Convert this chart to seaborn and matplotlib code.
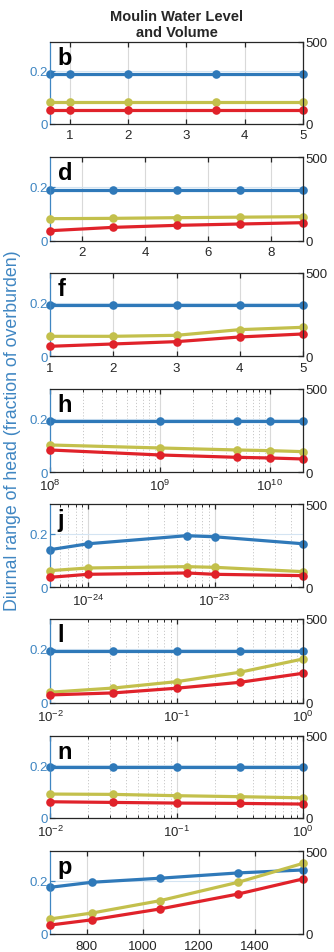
import numpy as np
import pandas as pd
import seaborn as sns
import matplotlib
matplotlib.use("Agg")
import matplotlib.pyplot as plt
from matplotlib.ticker import NullFormatter, LogLocator, FixedLocator

sns.set_theme(style="white")
plt.rcParams['font.family'] = ['Liberation Sans', 'DejaVu Sans']
plt.rcParams['mathtext.fontset'] = 'custom'
plt.rcParams['mathtext.rm'] = 'Liberation Sans'
plt.rcParams['mathtext.it'] = 'Liberation Sans'
plt.rcParams['mathtext.default'] = 'regular'

# Panel letters
letters = ["b", "d", "f", "h", "j", "l", "n", "p"]

# Parameter values (x) for each panel
x_b = [0.66, 1, 2, 3.5, 5]
x_d = [1, 3, 5, 7, 9]
x_f = [1, 2, 3, 4, 5]
x_h = [1e8, 1e9, 5e9, 1e10, 2e10]
x_j = [5e-25, 1e-24, 6e-24, 1e-23, 5e-23]
x_l = [1e-2, 10**-1.5, 1e-1, 10**-0.5, 1e0]
x_n = [1e-2, 10**-1.5, 1e-1, 10**-0.5, 1e0]
x_p = [670, 820, 1060, 1340, 1570]

# Diurnal range of head (fraction of overburden), left axis
head_b = [0.187, 0.187, 0.187, 0.187, 0.187]
head_d = [0.190, 0.190, 0.190, 0.190, 0.190]
head_f = [0.191, 0.191, 0.191, 0.191, 0.191]
head_h = [0.192, 0.192, 0.192, 0.192, 0.192]
head_j = [0.140, 0.162, 0.192, 0.188, 0.162]
head_l = [0.191, 0.191, 0.191, 0.191, 0.191]
head_n = [0.193, 0.193, 0.193, 0.193, 0.193]
head_p = [0.175, 0.194, 0.209, 0.229, 0.240]

# Volume series on the right axis (0-500)
vol_yellow_b = [129, 129, 129, 129, 129]
vol_yellow_d = [132, 134, 138, 141, 144]
vol_yellow_f = [120, 120, 126, 160, 174]
vol_yellow_h = [164, 146, 134, 130, 124]
vol_yellow_j = [100, 116, 124, 120, 94]
vol_yellow_l = [64, 89, 127, 183, 262]
vol_yellow_n = [146, 144, 136, 130, 123]
vol_yellow_p = [91, 127, 201, 313, 427]

vol_red_b = [84, 84, 84, 84, 84]
vol_red_d = [60, 80, 92, 100, 108]
vol_red_f = [60, 74, 88, 116, 134]
vol_red_h = [134, 104, 90, 86, 80]
vol_red_j = [60, 78, 86, 78, 70]
vol_red_l = [48, 60, 88, 123, 177]
vol_red_n = [99, 95, 91, 89, 85]
vol_red_p = [54, 86, 151, 242, 333]

xs = [x_b, x_d, x_f, x_h, x_j, x_l, x_n, x_p]
heads = [head_b, head_d, head_f, head_h, head_j, head_l, head_n, head_p]
yellows = [vol_yellow_b, vol_yellow_d, vol_yellow_f, vol_yellow_h,
           vol_yellow_j, vol_yellow_l, vol_yellow_n, vol_yellow_p]
reds = [vol_red_b, vol_red_d, vol_red_f, vol_red_h,
        vol_red_j, vol_red_l, vol_red_n, vol_red_p]

log_panels = {"h", "j", "l", "n"}
major_ticks = {
    "b": [1, 2, 3, 4, 5],
    "d": [2, 4, 6, 8],
    "f": [1, 2, 3, 4, 5],
    "h": [1e8, 1e9, 1e10],
    "j": [1e-24, 1e-23],
    "l": [1e-2, 1e-1, 1e0],
    "n": [1e-2, 1e-1, 1e0],
    "p": [800, 1000, 1200, 1400],
}

BLUE = "#2f79b9"
BLUE_TXT = "#3f86c2"
YELLOW = "#c3c04c"
RED = "#e0222a"
DARK = "#262626"

W, H = 334, 953
fig = plt.figure(figsize=(W / 100, H / 100), dpi=100)

# Axes boxes in pixel rows (top, bottom)
rows = [(42.5, 124.5), (158.3, 241.7), (274, 357.3), (390, 473.3),
        (505, 588.3), (620, 704), (737, 819), (852.3, 935)]
left_px, right_px = 50, 303

line_kw = dict(marker="o", markersize=6.2, markeredgewidth=0, linewidth=2.3,
               clip_on=False)

for i, letter in enumerate(letters):
    top, bot = rows[i]
    ax = fig.add_axes([left_px / W, 1 - bot / H, (right_px - left_px) / W, (bot - top) / H])
    ax2 = ax.twinx()

    x = xs[i]
    df = pd.DataFrame({"x": x, "head": heads[i], "yellow": yellows[i], "red": reds[i]})

    sns.lineplot(data=df, x="x", y="head", ax=ax, color=BLUE, **line_kw)
    sns.lineplot(data=df, x="x", y="yellow", ax=ax2, color=YELLOW, **line_kw)
    sns.lineplot(data=df, x="x", y="red", ax=ax2, color=RED, **line_kw)

    for a in (ax, ax2):
        if letter in log_panels:
            a.set_xscale("log")
        a.set_xlim(x[0], x[-1])
        a.set_xlabel("")
        a.set_ylabel("")

    ax.set_ylim(0, 0.31)
    ax.set_yticks([0, 0.2])
    ax.set_yticklabels(["0", "0.2"])
    ax2.set_ylim(0, 500)
    ax2.set_yticks([0, 500])
    ax2.set_yticklabels(["0", "500"])

    ax.xaxis.set_major_locator(FixedLocator(major_ticks[letter]))
    if letter in log_panels:
        ax.xaxis.set_minor_locator(LogLocator(base=10, subs=np.arange(2, 10)))
        ax.xaxis.set_minor_formatter(NullFormatter())
    ax2.xaxis.set_visible(False)

    # grid: vertical at x ticks, light blue horizontal from the left axis
    ax.set_axisbelow(True)
    ax.grid(True, axis="x", which="major", color="#d9d9d9", linewidth=0.8)
    if letter in log_panels:
        ax.grid(True, axis="x", which="minor", color="#c8c8c8", linewidth=0.7,
                linestyle=(0, (1.2, 2)))
    ax.grid(True, axis="y", which="major", color="#d4e4f2", linewidth=0.8)

    # spines
    for s in ("top", "bottom"):
        ax.spines[s].set_color(DARK)
        ax.spines[s].set_linewidth(0.9)
        ax2.spines[s].set_visible(False)
    ax.spines["left"].set_color(BLUE_TXT)
    ax.spines["left"].set_linewidth(0.9)
    ax.spines["right"].set_visible(False)
    ax2.spines["left"].set_visible(False)
    ax2.spines["right"].set_color(DARK)
    ax2.spines["right"].set_linewidth(0.9)

    ax.tick_params(axis="x", which="major", direction="in", top=True, bottom=True,
                   length=3.5, width=0.9, color=DARK, labelsize=9.5,
                   labelcolor=DARK, pad=4)
    ax.tick_params(axis="x", which="minor", direction="in", top=True, bottom=True,
                   length=2, width=0.7, color=DARK)
    ax.tick_params(axis="y", direction="in", length=3.5, width=0.9, color=BLUE_TXT,
                   labelcolor=BLUE_TXT, labelsize=9.5, pad=1.5)
    ax2.tick_params(axis="y", direction="in", length=3.5, width=0.9, color=DARK,
                    labelcolor=DARK, labelsize=9.5, pad=1.5)

    ax.text(0.03, 0.95, letter, transform=ax.transAxes, fontsize=17,
            fontweight="bold", color="black", ha="left", va="top", zorder=10)

    if i == 0:
        ax.set_title("Moulin Water Level\nand Volume", fontsize=10.5,
                     fontweight="bold", color=DARK, pad=4, linespacing=1.2)

fig.text(13 / W, 1 - 431 / H, "Diurnal range of head (fraction of overburden)",
         rotation=90, ha="center", va="center", color=BLUE_TXT, fontsize=12.8)

fig.savefig("out.png", dpi=100)
